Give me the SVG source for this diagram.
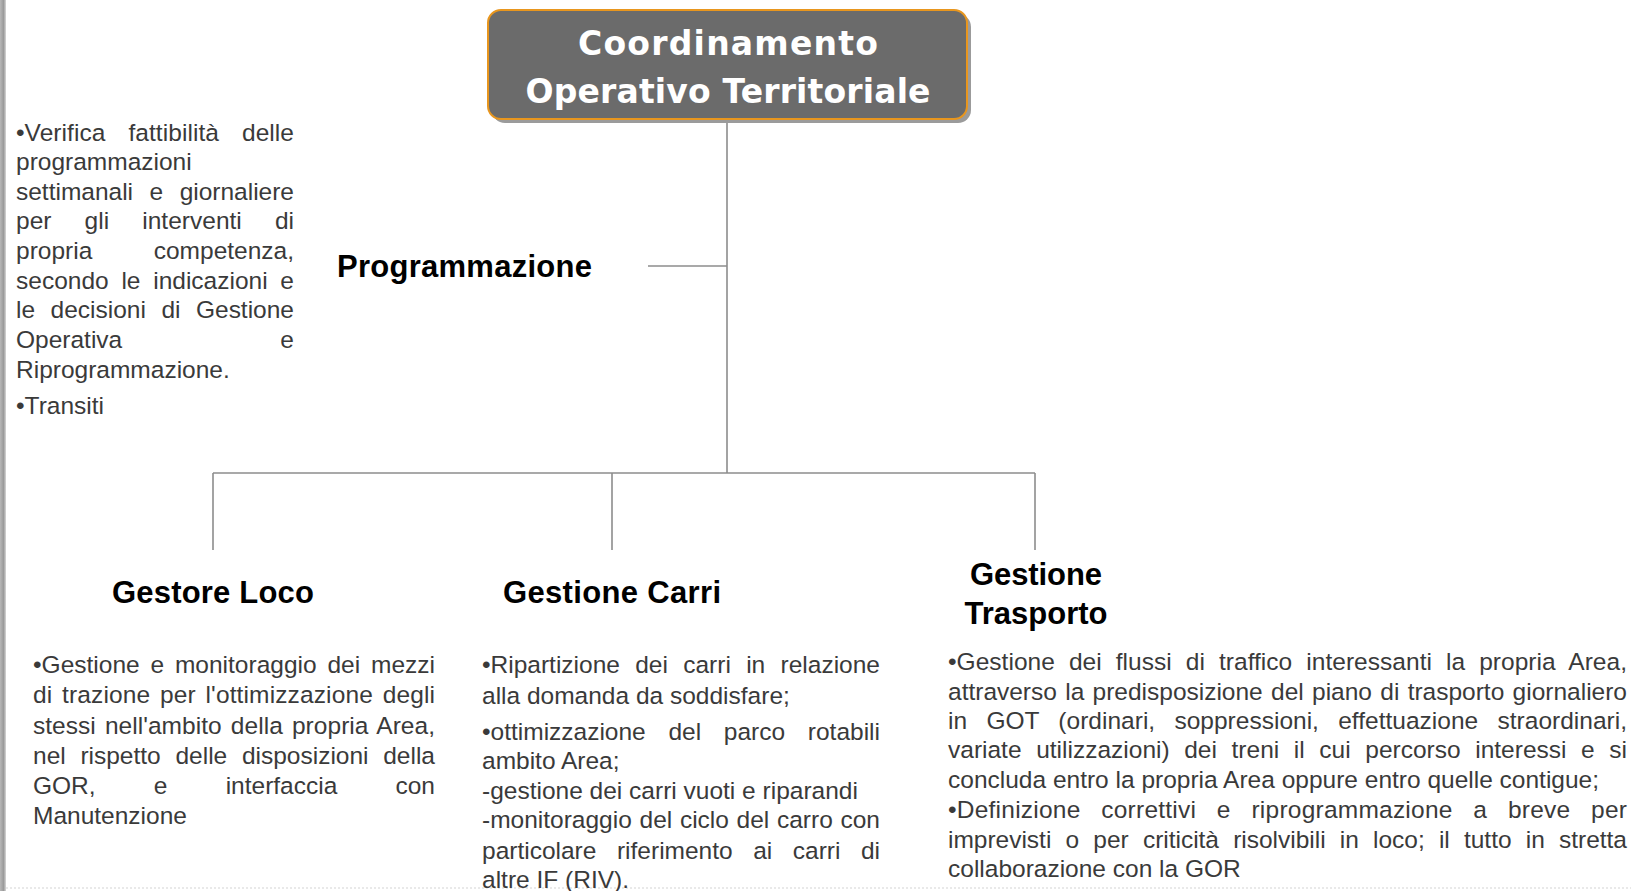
<svg xmlns="http://www.w3.org/2000/svg" width="1631" height="891" viewBox="0 0 1631 891">
<defs>
<linearGradient id="edge" x1="0" y1="0" x2="1" y2="0">
<stop offset="0" stop-color="#b8b8b8"/>
<stop offset="0.6" stop-color="#9a9a9a"/>
<stop offset="1" stop-color="#d8d8d8"/>
</linearGradient>
</defs>
<style>
.conn{stroke:#8c8c8c;stroke-width:1.6;fill:none}
.title{font-family:"Liberation Sans",Arial,sans-serif;font-weight:bold;font-size:31px;fill:#000}
.top{font-family:"DejaVu Sans",Verdana,sans-serif;font-weight:bold;font-size:33px;fill:#fff}
.body{font-family:"Liberation Sans",Arial,sans-serif;font-size:24.5px;fill:#3a3a3a}
.end{text-anchor:end}
</style>
<rect x="0" y="0" width="1631" height="891" fill="#fff"/>
<rect x="0" y="0" width="6" height="891" fill="url(#edge)"/>
<line x1="6" y1="888" x2="1631" y2="888" stroke="#e2e2e2" stroke-width="1.5" stroke-dasharray="2,2"/>

<g id="connectors">
<line class="conn" x1="727" y1="120" x2="727" y2="473"/>
<line class="conn" x1="648" y1="266" x2="727" y2="266"/>
<line class="conn" x1="213" y1="473" x2="1035" y2="473"/>
<line class="conn" x1="213" y1="473" x2="213" y2="550"/>
<line class="conn" x1="612" y1="473" x2="612" y2="550"/>
<line class="conn" x1="1035" y1="473" x2="1035" y2="550"/>
</g>

<g id="cot">
<rect x="492" y="14" width="479" height="109" rx="13" fill="#9b9b9b"/>
<rect x="488" y="10" width="479" height="109" rx="13" fill="#6b6b6b" stroke="#e8961e" stroke-width="2"/>
<text class="top" x="728" y="55" text-anchor="middle" textLength="300" lengthAdjust="spacing">Coordinamento</text>
<text class="top" x="728" y="103" text-anchor="middle" textLength="405" lengthAdjust="spacing">Operativo Territoriale</text>
</g>

<g id="programmazione">
<text class="title" x="337" y="277" textLength="255" lengthAdjust="spacing">Programmazione</text>
<g class="body">
<text x="16" y="141" word-spacing="16.2" textLength="278" lengthAdjust="spacing">•Verifica fattibilità delle</text>
<text x="16" y="170">programmazioni</text>
<text x="16" y="200" word-spacing="9.7" textLength="278" lengthAdjust="spacing">settimanali e giornaliere</text>
<text x="16" y="229" word-spacing="26.3" textLength="278" lengthAdjust="spacing">per gli interventi di</text>
<text x="16" y="259">propria</text>
<text class="end" x="294" y="259">competenza,</text>
<text x="16" y="289" word-spacing="5.9" textLength="278" lengthAdjust="spacing">secondo le indicazioni e</text>
<text x="16" y="318" word-spacing="8.7" textLength="278" lengthAdjust="spacing">le decisioni di Gestione</text>
<text x="16" y="348">Operativa</text>
<text class="end" x="294" y="348">e</text>
<text x="16" y="378">Riprogrammazione.</text>
<text x="16" y="414">•Transiti</text>
</g>
</g>

<g id="gestore-loco">
<text class="title" x="213" y="603" text-anchor="middle" textLength="202" lengthAdjust="spacing">Gestore Loco</text>
<g class="body">
<text x="33" y="673" word-spacing="4" textLength="402" lengthAdjust="spacing">•Gestione e monitoraggio dei mezzi</text>
<text x="33" y="703" word-spacing="2.8" textLength="402" lengthAdjust="spacing">di trazione per l'ottimizzazione degli</text>
<text x="33" y="734" word-spacing="2.3" textLength="402" lengthAdjust="spacing">stessi nell'ambito della propria Area,</text>
<text x="33" y="764" word-spacing="7.9" textLength="402" lengthAdjust="spacing">nel rispetto delle disposizioni della</text>
<text x="33" y="794" word-spacing="51.4" textLength="402" lengthAdjust="spacing">GOR, e interfaccia con</text>
<text x="33" y="824">Manutenzione</text>
</g>
</g>

<g id="gestione-carri">
<text class="title" x="612" y="603" text-anchor="middle" textLength="218" lengthAdjust="spacing">Gestione Carri</text>
<g class="body">
<text x="482" y="673" word-spacing="8.5" textLength="398" lengthAdjust="spacing">•Ripartizione dei carri in relazione</text>
<text x="482" y="704">alla domanda da soddisfare;</text>
<text x="482" y="740" word-spacing="15.9" textLength="398" lengthAdjust="spacing">•ottimizzazione del parco rotabili</text>
<text x="482" y="769">ambito Area;</text>
<text x="482" y="799">-gestione dei carri vuoti e riparandi</text>
<text x="482" y="828" word-spacing="0.9" textLength="398" lengthAdjust="spacing">-monitoraggio del ciclo del carro con</text>
<text x="482" y="859" word-spacing="13.7" textLength="398" lengthAdjust="spacing">particolare riferimento ai carri di</text>
<text x="482" y="888">altre IF (RIV).</text>
</g>
</g>

<g id="gestione-trasporto">
<text class="title" x="1036" y="585" text-anchor="middle" textLength="132" lengthAdjust="spacing">Gestione</text>
<text class="title" x="1036" y="624" text-anchor="middle" textLength="143" lengthAdjust="spacing">Trasporto</text>
<g class="body">
<text x="948" y="670" word-spacing="7.2" textLength="679" lengthAdjust="spacing">•Gestione dei flussi di traffico interessanti la propria Area,</text>
<text x="948" y="700" word-spacing="1.5" textLength="679" lengthAdjust="spacing">attraverso la predisposizione del piano di trasporto giornaliero</text>
<text x="948" y="729" word-spacing="12.5" textLength="679" lengthAdjust="spacing">in GOT (ordinari, soppressioni, effettuazione straordinari,</text>
<text x="948" y="758" word-spacing="7.8" textLength="679" lengthAdjust="spacing">variate utilizzazioni) dei treni il cui percorso interessi e si</text>
<text x="948" y="788">concluda entro la propria Area oppure entro quelle contigue;</text>
<text x="948" y="818" word-spacing="13.7" textLength="679" lengthAdjust="spacing">•Definizione correttivi e riprogrammazione a breve per</text>
<text x="948" y="848" word-spacing="7.4" textLength="679" lengthAdjust="spacing">imprevisti o per criticità risolvibili in loco; il tutto in stretta</text>
<text x="948" y="877">collaborazione con la GOR</text>
</g>
</g>
</svg>
